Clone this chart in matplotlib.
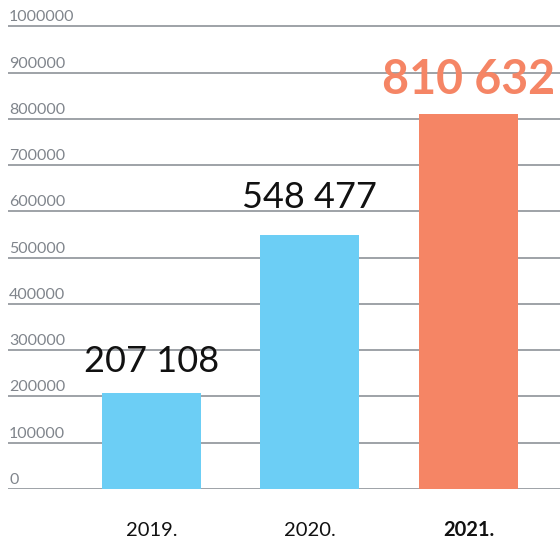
import matplotlib
matplotlib.use("Agg")
import matplotlib.pyplot as plt
from matplotlib import transforms

plt.rcParams["font.family"] = ["Lato", "DejaVu Sans"]

# Data
years = ["2019.", "2020.", "2021."]
values = [207108, 548477, 810632]
value_labels = ["207 108", "548 477", "810 632"]
y_ticks = [0, 100000, 200000, 300000, 400000, 500000, 600000, 700000, 800000, 900000, 1000000]
y_tick_labels = [str(v) for v in y_ticks]

BLUE = "#6CCEF5"
ORANGE = "#F58565"
GRID = "#8E9298"
TICK_TXT = "#80858C"

W, H = 560, 539
fig = plt.figure(figsize=(W / 100, H / 100), dpi=100)
ax = fig.add_axes([8 / W, 50 / H, 552 / W, 485.7 / H])

x = list(range(len(years)))
colors = [BLUE, BLUE, ORANGE]
ax.bar(x, values, width=0.625, color=colors, zorder=3)

ax.set_xlim(-0.905, 2.578)
ax.set_ylim(0, 1050000)

# Horizontal guide lines with their labels sitting just above
for v, lab in zip(y_ticks, y_tick_labels):
    ax.axhline(v, color=GRID, lw=1.2, zorder=1)
    off = transforms.offset_copy(ax.transData, fig=fig, x=0, y=5, units="dots")
    tr = transforms.blended_transform_factory(ax.transAxes, off)
    ax.text(0.002, v, lab, transform=tr, ha="left", va="baseline",
            fontsize=11.5, color=TICK_TXT, zorder=2)

# Value labels above bars
pads = [21, 27, 20]
for i, (v, lab, p) in enumerate(zip(values, value_labels, pads)):
    tr = transforms.offset_copy(ax.transData, fig=fig, x=0, y=p, units="dots")
    if i == len(values) - 1:
        ax.text(i, v, lab, transform=tr, ha="center", va="baseline",
                fontsize=33.5, fontweight="bold", color=ORANGE, zorder=4)
    else:
        ax.text(i, v, lab, transform=tr, ha="center", va="baseline",
                fontsize=26, color="#111111", zorder=4)

# Year labels under the baseline
for i, yr in enumerate(years):
    tr = transforms.offset_copy(ax.transData, fig=fig, x=0, y=-47, units="dots")
    ax.text(i, 0, yr, transform=tr, ha="center", va="baseline",
            fontsize=14.5, color="#111111",
            fontweight="bold" if i == len(years) - 1 else "normal")

for s in ax.spines.values():
    s.set_visible(False)
ax.set_xticks([])
ax.set_yticks([])

fig.savefig("out.png", dpi=100)
